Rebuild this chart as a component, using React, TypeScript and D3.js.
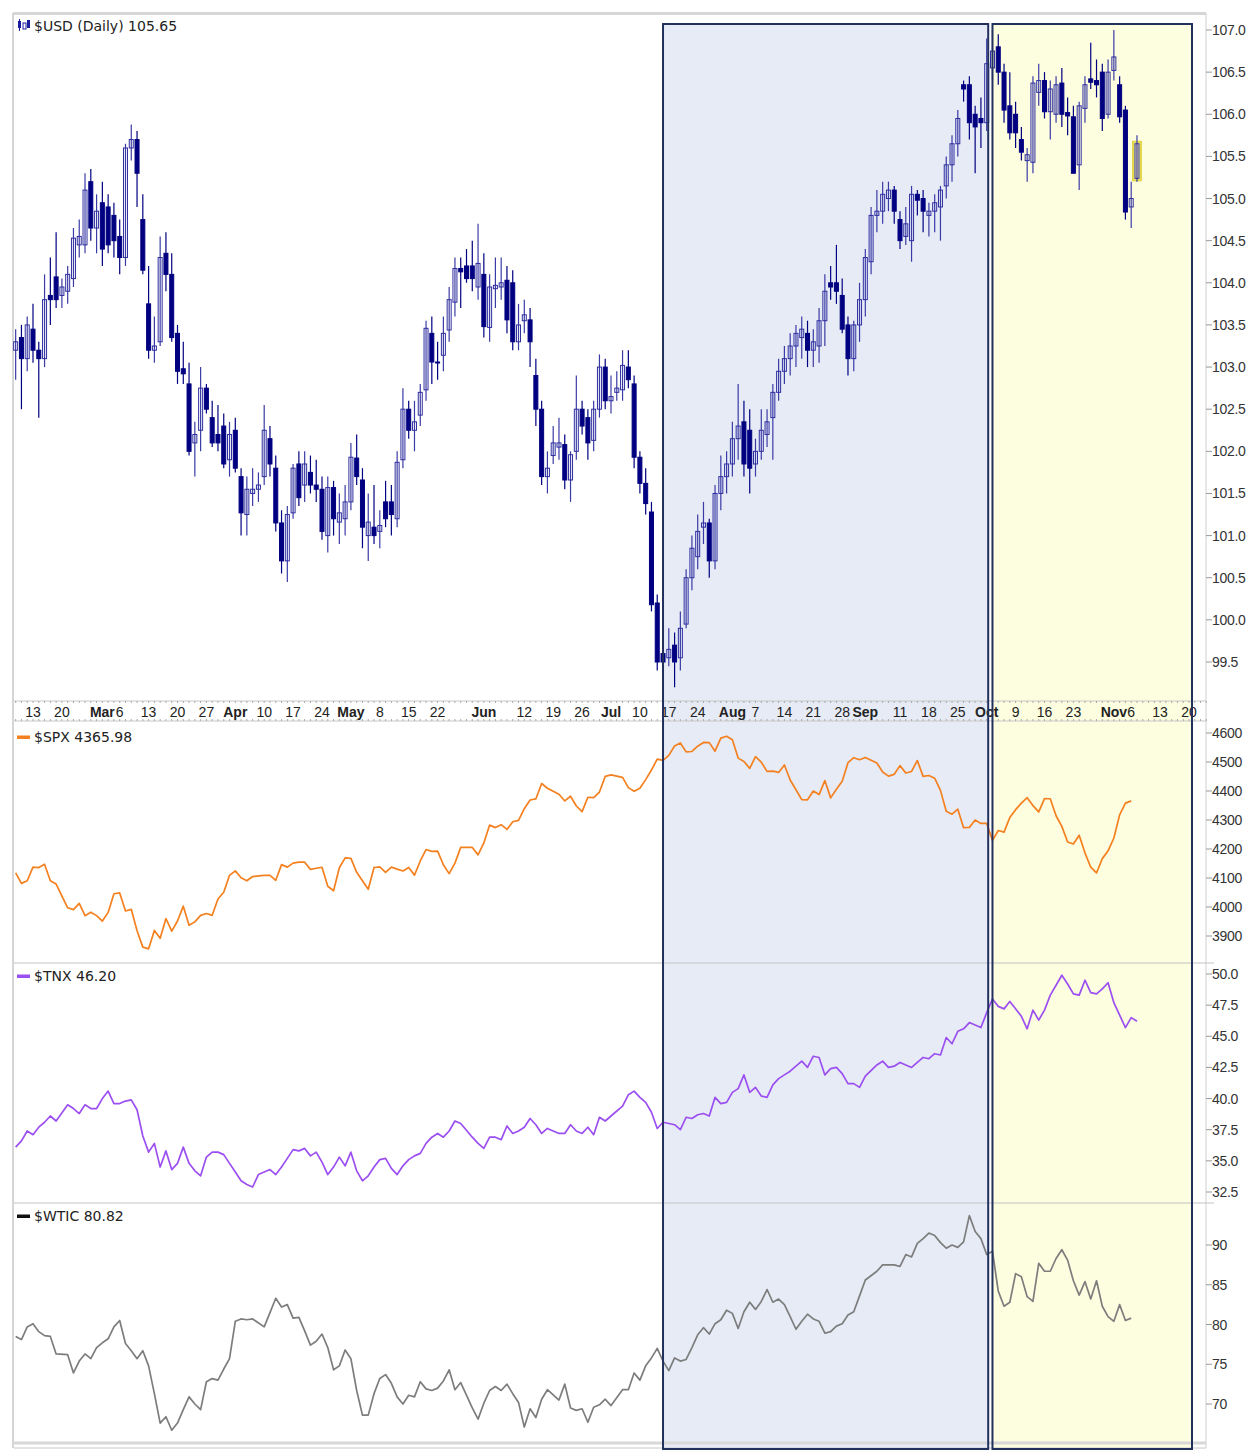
import React, { useRef, useEffect } from 'react';
import * as d3 from 'd3';

// ---- data (one value per weekday, starting Wed 2023-02-08) ----
const startDate = '2023-02-08';

const usdOpen = [
  103.2, 103.35, 103.1,
  103.45, 103.2, 103.1, 103.85, 104.07,
  103.85, 103.9, 104.05, 104.45, 104.45,
  105.2, 104.65, 104.95, 104.9, 104.8,
  104.55, 104.3, 105.6, 105.7, 104.75,
  103.75, 103.2, 103.3, 104.35, 104.1,
  103.4, 102.98, 102.8, 102.1, 102.25,
  102.75, 102.4, 102.2, 102.3, 101.9,
  102.25, 101.7, 101.25, 101.5, 101.55,
  101.7, 102.15, 101.8, 101.15, 100.7,
  101.27, 101.85, 101.6, 101.75, 101.6,
  101.55, 101.0, 101.57, 101.16, 101.2,
  101.4, 101.92, 101.66, 101.0, 101.1,
  101.05, 101.4, 101.4, 101.2, 101.9,
  102.5, 102.25, 102.43, 102.73, 103.4,
  103.06, 103.14, 103.44, 103.77, 104.17,
  104.2, 104.2, 103.95, 104.1, 103.47,
  103.93, 103.95, 104.03, 104.0, 103.3,
  103.55, 103.56, 102.9, 102.5, 101.7,
  101.95, 102.05, 102.08, 101.66, 102.0,
  102.5, 102.4, 102.13, 102.5, 103.0,
  102.6, 102.7, 102.73, 103.0, 102.8,
  101.93, 101.62, 101.28, 100.2, 99.6,
  99.55, 99.7, 99.55, 99.95, 100.5,
  100.75, 101.1, 101.15, 100.7, 101.5,
  101.7, 101.85, 102.15, 102.35, 102.25,
  101.85, 102.0, 102.2, 102.4, 102.7,
  102.95, 103.1, 103.25, 103.35, 103.4,
  103.2, 103.25, 103.55, 104.0, 104.0,
  103.85, 103.5, 103.1, 103.5, 103.8,
  104.25, 104.8, 104.85, 105.0, 105.1,
  104.75, 104.55, 104.5, 105.05, 105.0,
  104.8, 104.85, 104.9, 105.15, 105.4,
  105.65, 106.35, 106.35, 106.0, 105.95,
  105.9, 106.55, 106.8, 106.5, 106.1,
  106.0, 105.7, 105.45, 105.43, 106.26,
  106.4, 106.03, 106.0, 106.37, 106.02,
  105.97, 105.4, 106.07, 106.42, 106.4,
  106.5, 106.0, 106.52, 106.35, 106.05,
  104.9, 105.24,
];

const usdHigh = [
  103.45, 103.5, 103.6,
  103.75, 103.3, 104.1, 104.3, 104.6,
  104.05, 104.2, 104.65, 104.75, 105.3,
  105.35, 105.05, 105.2, 105.05, 104.95,
  104.75, 105.65, 105.88, 105.8, 105.05,
  104.2, 103.6, 104.55, 104.6, 104.35,
  103.5, 103.3, 103.05, 102.35, 103.0,
  102.8, 102.6, 102.55, 102.45, 102.35,
  102.4, 101.8, 101.7, 101.8, 101.75,
  102.55, 102.3, 101.95, 101.3, 101.35,
  101.85, 102.0, 102.0, 101.95, 101.9,
  101.7, 101.7, 101.65, 101.5, 101.6,
  102.1, 102.2, 101.8, 101.5, 101.6,
  101.3, 101.65, 101.6, 102.0, 102.75,
  102.6, 102.6, 102.8, 103.55, 103.6,
  103.3, 103.6, 103.95, 104.3, 104.3,
  104.4, 104.5, 104.7, 104.35, 104.1,
  104.3, 104.3, 104.2, 104.15, 103.75,
  103.8, 103.7, 103.1, 102.6, 102.0,
  102.3, 102.4, 102.2, 102.0, 102.9,
  102.6, 102.5, 102.6, 103.15, 103.1,
  102.9, 102.95, 103.2, 103.2, 102.9,
  102.0, 101.8, 101.4, 100.3, 99.8,
  99.9, 99.85, 100.1, 100.6, 101.0,
  101.25, 101.4, 101.2, 101.6, 101.95,
  102.0, 102.35, 102.8, 102.6, 102.5,
  102.15, 102.5, 102.5, 102.8, 103.1,
  103.25, 103.4, 103.5, 103.6, 103.55,
  103.45, 103.7, 104.1, 104.2, 104.45,
  104.05, 103.6, 103.55, 104.0, 104.4,
  104.9, 105.1, 105.2, 105.2, 105.15,
  104.85, 104.9, 105.15, 105.1, 105.1,
  104.95, 105.05, 105.15, 105.5, 105.75,
  106.05, 106.4, 106.45, 106.1, 106.2,
  106.9, 107.0, 106.95, 106.6, 106.5,
  106.15, 105.85, 105.6, 106.45, 106.6,
  106.5, 106.4, 106.45, 106.55, 106.2,
  106.1, 106.15, 106.45, 106.85, 106.65,
  106.6, 106.65, 107.0, 106.45, 106.1,
  105.2, 105.75,
];

const usdLow = [
  102.85, 102.5, 102.95,
  103.05, 102.4, 103.0, 103.5, 103.7,
  103.7, 103.75, 103.95, 104.3, 104.35,
  104.5, 104.35, 104.2, 104.35, 104.3,
  104.1, 104.2, 105.45, 104.9, 104.1,
  103.1, 103.05, 103.25, 103.9, 103.3,
  102.8, 102.8, 101.95, 101.7, 102.0,
  102.45, 102.05, 102.0, 101.8, 101.7,
  101.75, 101.0, 101.0, 101.35, 101.4,
  101.6, 101.7, 101.05, 100.55, 100.45,
  101.2, 101.35, 101.4, 101.5, 101.4,
  100.95, 100.8, 101.0, 100.9, 101.0,
  101.3, 101.6, 100.85, 100.7, 100.9,
  100.85, 101.1, 101.0, 101.1, 101.8,
  102.15, 102.0, 102.3, 102.6, 102.8,
  102.85, 102.95, 103.3, 103.6, 103.7,
  104.0, 103.9, 103.8, 103.35, 103.3,
  103.7, 103.8, 103.4, 103.2, 103.2,
  103.4, 103.0, 102.3, 101.6, 101.5,
  101.85, 101.9, 101.55, 101.4, 101.9,
  102.2, 101.9, 102.0, 102.4, 102.5,
  102.45, 102.6, 102.6, 102.75, 101.8,
  101.5, 101.25, 100.1, 99.4, 99.4,
  99.45, 99.2, 99.4, 99.9, 100.35,
  100.6, 100.9, 100.5, 100.6, 101.3,
  101.5, 101.7, 101.9, 101.7, 101.5,
  101.7, 101.9, 102.05, 101.9, 102.6,
  102.8, 102.9, 103.0, 103.1, 103.0,
  103.0, 103.05, 103.25, 103.8, 103.75,
  103.4, 102.9, 102.95, 103.3, 103.6,
  104.1, 104.6, 104.7, 104.85, 104.7,
  104.4, 104.45, 104.25, 104.8, 104.6,
  104.55, 104.6, 104.5, 105.0, 105.2,
  105.5, 106.15, 105.7, 105.3, 105.6,
  105.8, 106.4, 106.35, 105.9, 105.7,
  105.6, 105.45, 105.2, 105.3, 106.1,
  105.95, 105.7, 105.9, 105.85, 105.75,
  105.3, 105.1, 105.9, 106.3, 106.2,
  105.8, 105.95, 106.4, 105.9, 104.75,
  104.65, 105.2,
];

const usdClose = [
  103.3, 103.1, 103.5,
  103.2, 103.1, 103.8, 103.8, 103.8,
  103.95, 104.1, 104.53, 104.55, 105.1,
  104.65, 104.85, 104.4, 104.45, 104.5,
  104.3, 105.6, 105.7, 105.3, 104.15,
  103.2, 103.25, 104.3, 104.1, 103.35,
  102.95, 102.92, 102.0, 102.2, 102.75,
  102.5, 102.1, 102.1, 101.85, 102.2,
  101.8, 101.27, 101.55, 101.55, 101.6,
  102.25, 101.85, 101.15, 100.7, 101.25,
  101.8, 101.45, 101.85, 101.6, 101.55,
  101.05, 101.57, 101.2, 101.27, 101.4,
  101.93, 101.7, 101.1, 101.16, 101.0,
  101.12, 101.2, 101.25, 101.87, 102.5,
  102.25, 102.35, 102.7, 103.46, 103.06,
  103.05, 103.4, 103.8, 104.17, 104.13,
  104.05, 104.05, 104.23, 103.48, 103.95,
  103.97, 104.0, 103.56, 103.3, 103.5,
  103.62, 103.3, 102.5, 101.7, 101.8,
  102.1, 102.1, 101.66, 101.96, 102.5,
  102.3, 102.1, 102.5, 103.0, 102.6,
  102.65, 102.75, 103.02, 102.85, 101.93,
  101.62, 101.38, 100.18, 99.5, 99.5,
  99.65, 99.5, 99.9, 100.5, 100.85,
  101.05, 101.15, 100.7, 101.5, 101.7,
  101.85, 102.15, 102.3, 101.85, 101.8,
  102.0, 102.25, 102.35, 102.7, 102.95,
  103.1, 103.25, 103.4, 103.45, 103.2,
  103.3, 103.55, 103.9, 103.95, 103.9,
  103.45, 103.1, 103.5, 103.8, 104.3,
  104.8, 104.85, 105.05, 105.1, 104.85,
  104.5, 104.7, 105.05, 104.98, 104.85,
  104.85, 104.95, 105.1, 105.4, 105.65,
  105.95, 106.3, 105.9, 105.85, 105.9,
  106.6, 106.75, 106.5, 106.05, 105.78,
  105.78, 105.55, 105.52, 106.37, 106.4,
  106.03, 106.3, 106.35, 106.0, 105.98,
  105.3, 106.1, 106.35, 106.38, 106.35,
  105.95, 106.5, 106.68, 105.97, 104.84,
  105.0, 105.65,
];

const spxClose = [
  4117.9, 4081.5, 4090.5,
  4137.3, 4136.1, 4147.6, 4090.4, 4079.1,
  null, 3997.3, 3991.1, 4012.3, 3970.0,
  3982.2, 3970.2, 3951.4, 3981.4, 4045.6,
  4048.4, 3986.4, 3992.0, 3918.3, 3861.6,
  3855.8, 3919.3, 3891.9, 3960.3, 3916.6,
  3951.6, 4002.9, 3937.0, 3948.7, 3971.0,
  3977.5, 3971.3, 4027.8, 4050.8, 4109.3,
  4124.5, 4100.6, 4090.4, 4105.0, null,
  4109.1, 4108.9, 4092.0, 4146.2, 4137.6,
  4151.3, 4154.9, 4154.5, 4129.8, 4133.5,
  4137.0, 4071.6, 4056.0, 4135.4, 4169.5,
  4167.9, 4119.6, 4090.8, 4061.2, 4136.3,
  4138.1, 4119.2, 4137.6, 4130.6, 4124.1,
  4136.3, 4109.9, 4158.8, 4198.1, 4192.0,
  4192.6, 4145.6, 4115.2, 4151.3, 4205.5,
  null, 4205.5, 4179.8, 4221.0, 4282.4,
  4273.8, 4283.9, 4267.5, 4293.9, 4298.9,
  4338.9, 4369.0, 4372.6, 4425.8, 4409.6,
  null, 4388.7, 4365.7, 4381.9, 4348.3,
  4328.8, 4378.4, 4376.9, 4396.4, 4450.4,
  4455.6, null, 4446.8, 4411.6, 4399.0,
  4409.5, 4439.3, 4472.2, 4510.0, 4505.4,
  4522.8, 4555.0, 4565.7, 4534.9, 4536.3,
  4554.6, 4567.5, 4566.8, 4537.4, 4582.2,
  4589.0, 4576.7, 4513.4, 4501.9, 4478.0,
  4518.4, 4499.4, 4467.7, 4468.8, 4464.1,
  4489.7, 4437.9, 4404.3, 4370.4, 4369.7,
  4399.8, 4387.6, 4436.0, 4376.3, 4405.7,
  4433.3, 4497.6, 4514.9, 4507.7, 4515.8,
  null, 4496.8, 4465.5, 4451.1, 4457.5,
  4487.5, 4461.9, 4467.4, 4505.1, 4450.3,
  4453.5, 4444.0, 4402.2, 4330.0, 4320.1,
  4337.4, 4273.5, 4274.5, 4299.7, 4288.1,
  4288.4, 4229.5, 4263.8, 4258.2, 4308.5,
  4335.7, 4358.2, 4377.0, 4349.6, 4327.8,
  4373.6, 4373.2, 4314.6, 4278.0, 4224.2,
  4217.0, 4247.7, 4186.8, 4137.2, 4117.4,
  4166.8, 4193.8, 4237.9, 4317.8, 4358.3,
  4366.0,
];

const tnxClose = [
  36.1, 36.6, 37.4,
  37.1, 37.7, 38.1, 38.6, 38.2,
  null, 39.5, 39.2, 38.8, 39.5,
  39.2, 39.2, 40.0, 40.6, 39.6,
  39.6, 39.8, 39.9, 39.1, 37.0,
  35.7, 36.4, 34.5, 35.8, 34.3,
  34.8, 36.1, 34.8, 34.2, 33.8,
  35.3, 35.7, 35.7, 35.5, 34.8,
  34.1, 33.4, 33.1, 32.9, 33.9,
  34.1, 34.3, 33.9, 34.5, 35.2,
  35.9, 35.8, 36.0, 35.4, 35.7,
  34.9, 33.9, 34.5, 35.3, 34.6,
  35.7, 34.2, 33.4, 33.8, 34.5,
  35.1, 35.2, 34.4, 33.9, 34.6,
  35.1, 35.4, 35.6, 36.4, 36.9,
  37.2, 36.9, 37.4, 38.2, 38.0,
  null, 36.9, 36.4, 36.0, 36.9,
  36.9, 36.7, 37.8, 37.2, 37.4,
  37.7, 38.4, 37.9, 37.2, 37.6,
  null, 37.2, 37.2, 37.9, 37.4,
  37.2, 37.7, 37.1, 38.5, 38.2,
  38.6, null, 39.4, 40.3, 40.6,
  40.1, 39.7, 38.9, 37.6, 38.1,
  38.0, 37.9, 37.5, 38.5, 38.4,
  38.7, 38.8, 38.6, 40.1, 39.6,
  39.7, 40.5, 40.8, 41.9, 40.5,
  40.9, 40.2, 40.1, 41.1, 41.6,
  41.9, 42.2, 42.6, 43.0, 42.5,
  43.4, 43.3, 41.9, 42.4, 42.5,
  42.0, 41.2, 41.2, 40.9, 41.8,
  null, 42.7, 43.0, 42.5, 42.6,
  42.9, 42.7, 42.5, 42.9, 43.3,
  43.2, 43.6, 43.5, 44.9, 44.4,
  45.4, 45.6, 46.1, 45.9, 45.7,
  46.9, 48.0, 47.4, 47.2, 47.8,
  null, 46.6, 45.6, 47.1, 46.3,
  47.1, 48.3, 49.1, 49.9, 49.2,
  48.4, 48.3, 49.5, 48.5, 48.4,
  48.8, 49.3, 47.7, 46.7, 45.7,
  46.5, 46.2,
];

const wticClose = [
  78.5, 78.1, 79.7,
  80.1, 79.1, 78.6, 78.5, 76.3,
  null, 76.2, 73.9, 75.4, 76.3,
  75.7, 77.1, 77.7, 78.2, 79.7,
  80.5, 77.6, 76.7, 75.7, 76.7,
  74.8, 71.3, 67.6, 68.4, 66.7,
  67.6, 69.3, 70.9, 70.0, 69.3,
  72.8, 73.2, 73.0, 74.4, 75.7,
  80.4, 80.7, 80.6, 80.7, null,
  79.7, 81.5, 83.3, 82.2, 82.5,
  80.8, 80.9, 79.2, 77.4, 77.9,
  78.8, 77.1, 74.3, 74.8, 76.8,
  75.7, 71.7, 68.6, 68.6, 71.3,
  73.2, 73.7, 72.6, 70.9, 70.0,
  71.1, 70.9, 72.8, 71.9, 71.7,
  72.0, 72.9, 74.3, 71.8, 72.7,
  null, 69.5, 68.1, 70.1, 71.7,
  72.2, 71.7, 72.5, 71.3, 70.2,
  67.1, 69.4, 68.3, 70.6, 71.8,
  null, 70.5, 72.5, 69.5, 69.2,
  69.4, 67.7, 69.6, 69.9, 70.6,
  69.8, null, 71.8, 71.8, 73.9,
  73.0, 74.8, 75.8, 77.0, 75.4,
  74.2, 75.8, 75.4, 75.6, 77.1,
  78.7, 79.6, 78.8, 80.1, 80.6,
  81.8, 81.4, 79.5, 81.6, 82.8,
  81.9, 82.9, 84.4, 82.8, 83.2,
  82.5, 81.0, 79.4, 80.4, 81.3,
  80.7, 80.4, 78.9, 79.1, 79.8,
  80.1, 81.2, 81.6, 83.6, 85.6,
  null, 86.7, 87.5, 87.5, 87.5,
  87.3, 88.8, 88.5, 90.2, 90.8,
  91.5, 91.2, 90.3, 89.6, 90.0,
  89.7, 90.4, 93.7, 91.7, 90.8,
  88.8, 89.2, 84.2, 82.3, 82.8,
  86.4, 86.0, 83.5, 82.9, 87.7,
  86.7, 86.7, 88.3, 89.4, 88.1,
  85.5, 83.7, 85.4, 83.2, 85.5,
  82.3, 81.0, 80.4, 82.5, 80.5,
  80.8,
];

const tickDates = [
  '2023-02-13', '2023-02-20', '2023-03-01', '2023-03-06', '2023-03-13', '2023-03-20', '2023-03-27',
  '2023-04-03', '2023-04-10', '2023-04-17', '2023-04-24', '2023-05-01', '2023-05-08', '2023-05-15',
  '2023-05-22', '2023-06-01', '2023-06-12', '2023-06-19', '2023-06-26', '2023-07-03', '2023-07-10',
  '2023-07-17', '2023-07-24', '2023-08-01', '2023-08-07', '2023-08-14', '2023-08-21', '2023-08-28',
  '2023-09-01', '2023-09-11', '2023-09-18', '2023-09-25', '2023-10-02', '2023-10-09', '2023-10-16',
  '2023-10-23', '2023-11-01', '2023-11-06', '2023-11-13', '2023-11-20',
];
const tickLabels = [
  '13', '20', 'Mar', '6', '13', '20', '27',
  'Apr', '10', '17', '24', 'May', '8', '15',
  '22', 'Jun', '12', '19', '26', 'Jul', '10',
  '17', '24', 'Aug', '7', '14', '21', '28',
  'Sep', '11', '18', '25', 'Oct', '9', '16',
  '23', 'Nov', '6', '13', '20',
];

const usdTicks = [99.5, 100, 100.5, 101, 101.5, 102, 102.5, 103, 103.5, 104, 104.5, 105, 105.5, 106, 106.5, 107];
const spxTicks = [3900, 4000, 4100, 4200, 4300, 4400, 4500, 4600];
const tnxTicks = [32.5, 35, 37.5, 40, 42.5, 45, 47.5, 50];
const wticTicks = [70, 75, 80, 85, 90];

const blueZone = ['2023-07-14', '2023-10-02'];
const yellowZone = ['2023-10-03', '2023-11-20'];

// weekday count from Monday 2023-02-13
const dayIndex = (s: string) => {
  const d = new Date(s + 'T00:00:00');
  const base = new Date('2023-02-13T00:00:00');
  const days = Math.round((d.getTime() - base.getTime()) / 864e5);
  const weeks = Math.floor(days / 7);
  return weeks * 5 + Math.min(days - weeks * 7, 5);
};

const FONT = "'Liberation Sans', Arial, sans-serif";
const LEGEND_FONT = "'DejaVu Sans', Verdana, sans-serif";

const App = () => {
  const svgRef = useRef<SVGSVGElement>(null);

  useEffect(() => {
    const svg = d3.select(svgRef.current);
    svg.selectAll('*').remove();

    const left = 14, right = 1206;
    const x = d3.scaleLinear().domain([0, 200]).range([33, 1189]);
    const first = dayIndex(startDate);

    const yUsd = d3.scaleLinear().domain([99.5, 107]).range([662, 30]);
    const ySpx = d3.scaleLinear().domain([3900, 4600]).range([936, 733]);
    const yTnx = d3.scaleLinear().domain([32.5, 50]).range([1192, 974]);
    const yWtic = d3.scaleLinear().domain([70, 90]).range([1404, 1245]);

    svg.append('rect').attr('width', 1257).attr('height', 1452).attr('fill', '#fff');

    // highlight zones
    const zoneTop = 24, zoneBottom = 1449;
    const bx1 = x(dayIndex(blueZone[0])), bx2 = x(dayIndex(blueZone[1])) + 1.5;
    const yx1 = x(dayIndex(yellowZone[0])), yx2 = x(dayIndex(yellowZone[1])) + 3;
    svg.append('rect').attr('x', bx1).attr('y', zoneTop).attr('width', bx2 - bx1).attr('height', zoneBottom - zoneTop)
      .attr('fill', '#e6ebf6');
    svg.append('rect').attr('x', yx1).attr('y', zoneTop).attr('width', yx2 - yx1).attr('height', zoneBottom - zoneTop)
      .attr('fill', '#fdfde0');

    // frame
    svg.append('line').attr('x1', 13).attr('x2', right).attr('y1', 13.5).attr('y2', 13.5)
      .attr('stroke', '#d6d6d6').attr('stroke-width', 3);
    svg.append('line').attr('x1', 13).attr('x2', 13).attr('y1', 13).attr('y2', 1448)
      .attr('stroke', '#d6d6d6').attr('stroke-width', 2);
    svg.append('line').attr('x1', right).attr('x2', right).attr('y1', 13).attr('y2', 1448)
      .attr('stroke', '#d0d0d0').attr('stroke-width', 1);
    [963, 1203].forEach(yy => {
      svg.append('line').attr('x1', left).attr('x2', right + 8).attr('y1', yy).attr('y2', yy)
        .attr('stroke', '#c4c4c4').attr('stroke-width', 1.2);
    });
    svg.append('line').attr('x1', left).attr('x2', right).attr('y1', 1443).attr('y2', 1443)
      .attr('stroke', '#d8d8d8').attr('stroke-width', 3);

    // x-axis strip with daily ticks
    const strip = svg.append('g');
    [701, 721, 1448].forEach(yy => {
      strip.append('line').attr('x1', left).attr('x2', right).attr('y1', yy).attr('y2', yy)
        .attr('stroke', '#c8c8c8').attr('stroke-width', 1);
    });
    const days = d3.range(first, 204);
    strip.selectAll('line.tk').data(days).join('line').attr('class', 'tk')
      .attr('x1', d => x(d)).attr('x2', d => x(d)).attr('y1', 701).attr('y2', 703)
      .attr('stroke', '#aaa').attr('stroke-width', 1);
    strip.selectAll('line.tk2').data(days).join('line').attr('class', 'tk2')
      .attr('x1', d => x(d)).attr('x2', d => x(d)).attr('y1', 719).attr('y2', 721)
      .attr('stroke', '#aaa').attr('stroke-width', 1);
    strip.selectAll('text').data(tickDates).join('text')
      .attr('x', d => x(dayIndex(d)))
      .attr('y', 717)
      .attr('text-anchor', 'middle')
      .attr('font-family', FONT)
      .attr('font-size', 14)
      .attr('font-weight', (d, i) => (/^[A-Z]/.test(tickLabels[i]) ? 'bold' : 'normal'))
      .attr('fill', '#222')
      .text((d, i) => tickLabels[i]);

    // right axes
    const axis = (ticks: number[], y: d3.ScaleLinear<number, number>, fmt: (v: number) => string) => {
      const g = svg.append('g');
      g.selectAll('line').data(ticks).join('line')
        .attr('x1', right).attr('x2', right + 6).attr('y1', d => y(d)).attr('y2', d => y(d))
        .attr('stroke', '#999');
      g.selectAll('text').data(ticks).join('text')
        .attr('x', right + 6).attr('y', d => y(d) + 5)
        .attr('font-family', FONT).attr('font-size', 14).attr('fill', '#333')
        .attr('letter-spacing', -0.3)
        .text(d => fmt(d));
    };
    axis(usdTicks, yUsd, d3.format('.1f'));
    axis(spxTicks, ySpx, d3.format('d'));
    axis(tnxTicks, yTnx, d3.format('.1f'));
    axis(wticTicks, yWtic, d3.format('d'));

    // candles
    const candles = usdClose.map((c, k) => ({
      i: first + k, o: usdOpen[k], h: usdHigh[k], l: usdLow[k], c,
    }));
    const last = candles[candles.length - 1];
    const cg = svg.append('g');
    // highlight for the current bar
    cg.append('rect')
      .attr('x', x(last.i) - 4).attr('y', yUsd(Math.max(last.o, last.c)) - 2)
      .attr('width', 8).attr('height', Math.abs(yUsd(last.o) - yUsd(last.c)) + 4)
      .attr('fill', '#f4ee9a').attr('stroke', '#e3d84a').attr('stroke-width', 2);
    cg.selectAll('line').data(candles).join('line')
      .attr('x1', d => x(d.i)).attr('x2', d => x(d.i))
      .attr('y1', d => yUsd(d.h)).attr('y2', d => yUsd(d.l))
      .attr('stroke', d => (d.c >= d.o ? '#3b3ba6' : '#000080')).attr('stroke-width', 1.2);
    cg.selectAll('rect.body').data(candles).join('rect').attr('class', 'body')
      .attr('x', d => x(d.i) - 2)
      .attr('y', d => yUsd(Math.max(d.o, d.c)))
      .attr('width', 4)
      .attr('height', d => Math.max(1, Math.abs(yUsd(d.o) - yUsd(d.c))))
      .attr('fill', d => (d.c >= d.o ? 'none' : '#000080'))
      .attr('stroke', d => (d.c >= d.o ? '#2e2ea0' : '#000080'))
      .attr('stroke-width', 1);

    // line series
    const drawLine = (vals: (number | null)[], y: d3.ScaleLinear<number, number>, color: string) => {
      const pts = vals.map((v, k) => ({ i: first + k, v })).filter(p => p.v !== null) as { i: number; v: number }[];
      const line = d3.line<{ i: number; v: number }>().x(p => x(p.i)).y(p => y(p.v));
      svg.append('path').attr('d', line(pts)).attr('fill', 'none')
        .attr('stroke', color).attr('stroke-width', 1.7).attr('stroke-linejoin', 'round');
    };
    drawLine(spxClose, ySpx, '#f4801f');
    drawLine(tnxClose, yTnx, '#9c4ff0');
    drawLine(wticClose, yWtic, '#7d7d7d');

    // zone borders
    svg.append('rect').attr('x', bx1).attr('y', zoneTop).attr('width', bx2 - bx1).attr('height', zoneBottom - zoneTop)
      .attr('fill', 'none').attr('stroke', '#22305e').attr('stroke-width', 2);
    svg.append('rect').attr('x', yx1).attr('y', zoneTop).attr('width', yx2 - yx1).attr('height', zoneBottom - zoneTop)
      .attr('fill', 'none').attr('stroke', '#22305e').attr('stroke-width', 2);

    // legends
    const icon = svg.append('g');
    icon.append('rect').attr('x', 18).attr('y', 21).attr('width', 3).attr('height', 7).attr('fill', '#1c1ca0');
    icon.append('line').attr('x1', 19.5).attr('x2', 19.5).attr('y1', 19).attr('y2', 31).attr('stroke', '#1c1ca0');
    icon.append('rect').attr('x', 23).attr('y', 23).attr('width', 3).attr('height', 6).attr('fill', 'none').attr('stroke', '#1c1ca0');
    icon.append('rect').attr('x', 27).attr('y', 20).attr('width', 3).attr('height', 8).attr('fill', '#1c1ca0');
    const legend = (y: number, color: string | null, label: string) => {
      if (color) {
        svg.append('rect').attr('x', 17).attr('y', y - 6.5).attr('width', 13).attr('height', 3.5).attr('fill', color);
      }
      svg.append('text').attr('x', 34).attr('y', y).attr('font-family', LEGEND_FONT).attr('font-size', 14)
        .attr('fill', '#222').text(label);
    };
    legend(31, null, '$USD (Daily) 105.65');
    legend(742, '#f4801f', '$SPX 4365.98');
    legend(981, '#9c4ff0', '$TNX 46.20');
    legend(1221, '#111', '$WTIC 80.82');
  }, []);

  return (
    <svg ref={svgRef} width={1257} height={1452}
      style={{ position: 'absolute', left: 0, top: 0, display: 'block' }} />
  );
};

export default App;
